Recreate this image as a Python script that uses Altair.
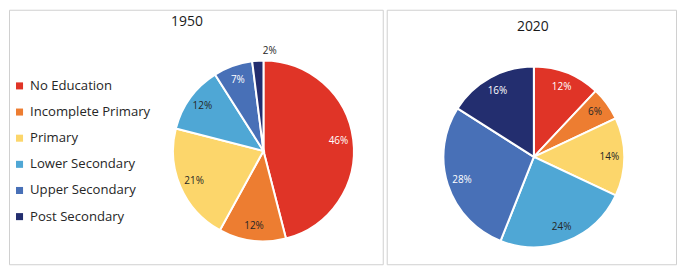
import altair as alt
import pandas as pd

categories = ["No Education", "Incomplete Primary", "Primary",
              "Lower Secondary", "Upper Secondary", "Post Secondary"]
values_1950 = [46, 12, 21, 12, 7, 2]
values_2020 = [12, 6, 14, 24, 28, 16]
colors = ["#E03427", "#ED7D31", "#FCD66B", "#4FA7D5", "#4870B7", "#232E6F"]
white_label_cats = ["No Education", "Upper Secondary", "Post Secondary"]
years = ["1950", "2020"]

FONT = "Open Sans"
color_scale = alt.Scale(domain=categories, range=colors)
white_test = ("indexof([" + ",".join(f"'{c}'" for c in white_label_cats) +
              "], datum.category) >= 0 && datum.value >= 5")


def frame(vals):
    return pd.DataFrame({
        "category": categories,
        "value": vals,
        "idx": list(range(len(categories))),
        "label": [f"{v}%" for v in vals],
    })


def panel(vals, year, cx, cy, tx, ty, w, show_legend):
    base = alt.Chart(frame(vals))
    if show_legend:
        legend = alt.Legend(title=None, orient="none", legendX=4, legendY=70,
                            symbolType="square", symbolSize=50,
                            symbolStrokeWidth=0, labelFont=FONT,
                            labelFontSize=13.2, labelColor="#262626",
                            rowPadding=12.3, labelOffset=4)
    else:
        legend = None
    arcs = base.mark_arc(outerRadius=91, stroke="white", strokeWidth=2).encode(
        theta=alt.Theta("value:Q", stack=True),
        color=alt.Color("category:N", scale=color_scale, legend=legend),
        order=alt.Order("idx:Q"),
        x=alt.value(cx), y=alt.value(cy),
    )
    labels = base.transform_calculate(
        r="datum.value < 5 ? 101 : 76"
    ).mark_text(font=FONT, fontSize=10).encode(
        theta=alt.Theta("value:Q", stack=True),
        radius=alt.Radius("r:Q", scale=None),
        order=alt.Order("idx:Q"),
        text="label:N",
        color=alt.condition(white_test, alt.value("white"), alt.value("#262626")),
        x=alt.value(cx), y=alt.value(cy),
    )
    title = alt.Chart(pd.DataFrame({"t": [year]})).mark_text(
        font=FONT, fontSize=14, color="#1a1a1a", baseline="middle"
    ).encode(text="t:N", x=alt.value(tx), y=alt.value(ty))
    return alt.layer(arcs, labels, title).properties(width=w, height=256)


left = panel(values_1950, years[0], 256, 142, 179, 12, 376, True)
right = panel(values_2020, years[1], 148, 148, 147, 17, 291, False)

chart = alt.hconcat(left, right, spacing=2).properties(
    padding=0
).configure_view(stroke="#d0d0d0", strokeWidth=1)

chart.save("out.html", embed_options={"renderer": "svg", "actions": False})
